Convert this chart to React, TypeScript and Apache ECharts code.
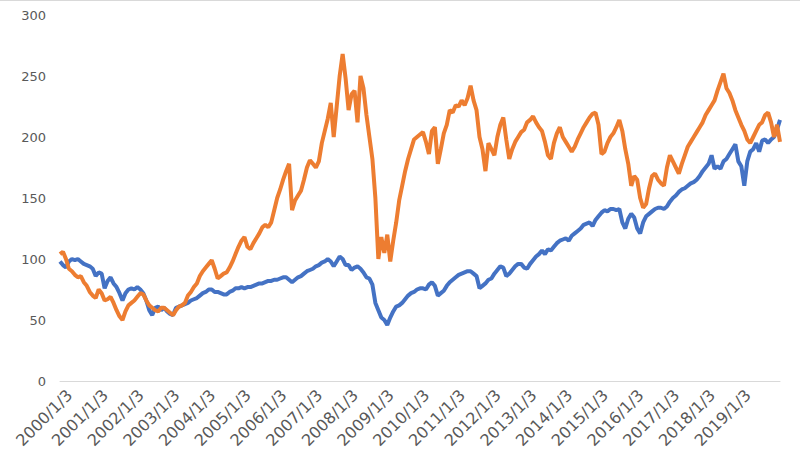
import React, { useEffect, useRef } from "react";
import * as echarts from "echarts";

// Monthly samples from 2000/1 onward
const categories: string[] = [];
for (let y = 2000; y <= 2020; y++) {
  for (let m = 1; m <= 12; m++) {
    if (categories.length < 243) categories.push(`${y}/${m}/3`);
  }
}

const yTicks = [0, 50, 100, 150, 200, 250, 300];

const blueA = [
  98, 95, 93, 98, 100, 99, 100, 98, 96, 95, 94, 92,
  86, 89, 88, 76, 82, 85, 80, 77, 72, 66, 72, 75,
  76, 75, 77, 75, 72, 66, 58, 54, 60, 61, 58, 60,
  57, 55, 54, 60, 61, 62, 63, 64, 66, 67, 68, 70, 72,
  73, 75, 75, 73, 73, 72, 71, 71, 73, 74, 76, 76,
];
const blueB = [
  77, 76, 77, 77, 78, 79, 80, 80, 81, 82, 82, 83,
  83, 84, 85, 85, 83, 81, 83, 85, 86, 88, 90, 91,
  92, 94, 95, 97, 98, 100, 98, 94, 98, 102, 100, 95,
  95, 91, 93, 94, 92, 89, 85, 84, 79, 64, 58, 52,
  50, 46, 52, 57, 61, 62, 64, 67, 70, 72, 73, 75, 76,
];
const blueC = [
  76, 75, 79, 81, 78, 70, 72, 74, 78, 81, 83, 85,
  87, 88, 89, 90, 90, 88, 86, 76, 78, 80, 83, 84,
  88, 91, 94, 93, 86, 88, 91, 94, 96, 96, 93, 92,
  96, 99, 102, 104, 107, 104, 108, 107, 110, 113, 115, 116,
  117, 115, 119, 121, 123, 125, 128, 129, 130, 127, 132, 135,
];
const blueD = [
  138, 140, 139, 141, 141, 140, 141, 130, 125, 133, 137, 134,
  125, 121, 130, 135, 137, 139, 141, 142, 142, 141, 143, 147, 150,
  152, 155, 157, 158, 160, 162, 163, 165, 168, 172, 175, 178,
  185, 174, 176, 174, 180, 182, 186, 190, 194, 180, 176, 160,
  180, 188, 190, 195, 188, 197, 198, 195, 198, 200, 206, 214,
];

const orangeA = [
  104, 106, 100, 92, 90, 87, 85, 86, 81, 78, 73, 70,
  68, 75, 72, 66, 67, 69, 64, 58, 53, 50, 57, 62,
  64, 66, 69, 72, 71, 66, 62, 60, 58, 57, 60, 60,
  58, 56, 54, 58, 61, 62, 64, 70, 73, 77, 80, 86, 90,
  93, 96, 99, 92, 84, 86, 88, 89, 93, 98, 104, 110,
];
const orangeB = [
  115, 118, 110, 108, 113, 117, 121, 126, 128, 126, 130, 140,
  150, 157, 165, 172, 178, 140, 148, 152, 156, 165, 175, 181,
  178, 175, 180, 195, 205, 215, 228, 200, 225, 250, 268, 248,
  222, 235, 238, 212, 250, 240, 218, 200, 182, 150, 100, 118,
  105, 120, 98, 115, 130, 148, 160, 172, 182, 190, 198, 200, 202,
];
const orangeC = [
  204, 196, 186, 205, 208, 178, 190, 203, 210, 222, 220, 226,
  225, 230, 226, 232, 242, 230, 222, 200, 190, 172, 195, 190,
  185, 200, 210, 216, 198, 182, 190, 196, 200, 204, 206, 212,
  214, 217, 212, 208, 205, 196, 185, 182, 195, 203, 208, 200,
  196, 192, 188, 192, 198, 203, 208, 212, 216, 219, 220, 210,
];
const orangeD = [
  186, 188, 195, 200, 203, 208, 214, 205, 190, 178, 160, 168,
  165, 150, 142, 145, 158, 168, 170, 165, 162, 160, 175, 185, 180,
  175, 170, 178, 185, 192, 196, 200, 204, 208, 212, 218, 222,
  226, 230, 238, 245, 252, 240, 236, 230, 222, 216, 210, 205,
  198, 195, 200, 205, 210, 212, 218, 220, 212, 200, 210, 196,
];

const blueValues = [...blueA, ...blueB, ...blueC, ...blueD];
const orangeValues = [...orangeA, ...orangeB, ...orangeC, ...orangeD];

export default function App() {
  const ref = useRef<HTMLDivElement>(null);
  useEffect(() => {
    if (!ref.current) return;
    const chart = echarts.init(ref.current, undefined, { renderer: "svg" });
    const labelFont = { color: "#595959", fontFamily: "DejaVu Sans" };
    chart.setOption({
      animation: false,
      backgroundColor: "#ffffff",
      grid: [
        { left: 60, right: 20, top: 15, bottom: 70, containLabel: false },
        { left: 64, right: 16, top: 15, bottom: 70, containLabel: false },
      ],
      graphic: [
        {
          type: "line",
          shape: { x1: 0, y1: 0.5, x2: 800, y2: 0.5 },
          style: { stroke: "#d9d9d9", lineWidth: 1 },
        },
      ],
      xAxis: [
        {
          type: "category",
          gridIndex: 0,
          data: categories,
          boundaryGap: false,
          axisLine: { show: true, lineStyle: { color: "#d9d9d9", width: 1 } },
          axisTick: { show: false },
          axisLabel: { show: false },
          splitLine: { show: false },
        },
        {
          type: "category",
          gridIndex: 1,
          data: categories,
          boundaryGap: false,
          axisLine: { show: false },
          axisTick: { show: false },
          splitLine: { show: false },
          axisLabel: {
            ...labelFont,
            interval: (index: number) => index % 12 === 0 && index < 240,
            rotate: 45,
            margin: 12,
            align: "right",
            verticalAlign: "top",
            fontSize: 16,
          },
        },
      ],
      yAxis: [
        {
          type: "value",
          gridIndex: 0,
          min: yTicks[0],
          max: yTicks[yTicks.length - 1],
          interval: 50,
          axisLine: { show: false },
          axisTick: { show: false },
          splitLine: { show: false },
          axisLabel: { ...labelFont, margin: 14, fontSize: 13 },
        },
        {
          type: "value",
          gridIndex: 1,
          min: 0,
          max: 300,
          show: false,
        },
      ],
      series: [
        {
          type: "line",
          data: blueValues,
          showSymbol: false,
          lineStyle: { color: "#4472C4", width: 4 },
          itemStyle: { color: "#4472C4" },
        },
        {
          type: "line",
          data: orangeValues,
          showSymbol: false,
          lineStyle: { color: "#ED7D31", width: 4 },
          itemStyle: { color: "#ED7D31" },
        },
      ],
    });
    return () => chart.dispose();
  }, []);
  return (
    <div
      ref={ref}
      style={{ position: "fixed", left: 0, top: 0, width: 800, height: 451 }}
    />
  );
}
